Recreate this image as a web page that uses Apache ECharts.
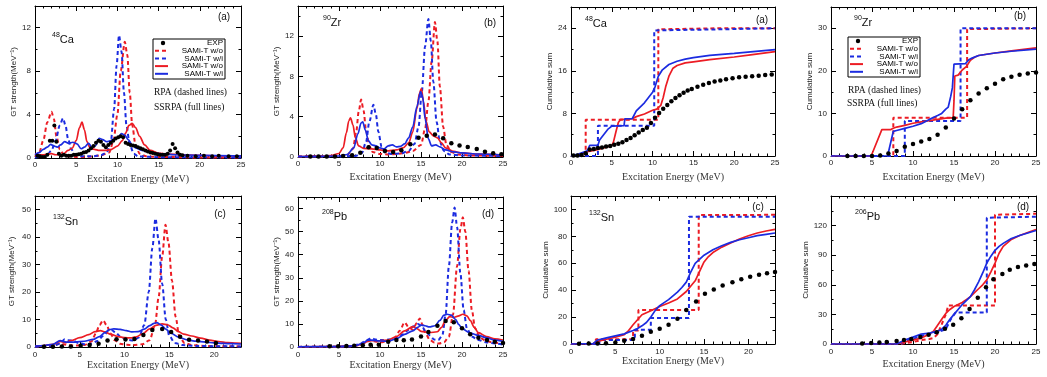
<!DOCTYPE html>
<html><head><meta charset="utf-8">
<script src="https://cdn.jsdelivr.net/npm/echarts/dist/echarts.min.js"></script>
<style>html,body{margin:0;padding:0;background:#fff}#c{width:1047px;height:377px}</style>
</head><body><div id="c"></div><script>
// ---------- DATA (energy MeV, value) ----------
// (a) 48Ca GT strength
const ca48_rpa_wo=[[0,0.1],[0.5,0.5],[1.0,1.6],[1.5,3.3],[2.0,4.25],[2.3,3.6],[2.6,2.0],[3.0,0.8],[3.5,0.3],[4,0.15],[5,0.1],[6,0.1],[7,0.15],[8,0.25],[9.0,0.5],[9.5,1.5],[10.0,4.0],[10.4,8.0],[10.9,10.7],[11.2,9.5],[11.5,6.0],[11.8,3.0],[12.2,1.2],[12.7,0.4],[13.5,0.15],[15,0.1],[20,0.05],[25,0.05]];
const ca48_rpa_wi=[[0,0.05],[1.0,0.1],[1.5,0.3],[2.0,0.7],[2.5,1.6],[3.0,3.0],[3.4,3.66],[3.7,3.0],[4.0,1.8],[4.4,0.8],[4.9,0.3],[5.5,0.15],[7,0.15],[8.0,0.25],[8.7,0.5],[9.2,1.5],[9.6,4.5],[9.9,8.5],[10.2,11.3],[10.5,9.8],[10.8,6.0],[11.1,3.0],[11.5,1.2],[12.0,0.4],[12.5,0.15],[15,0.08],[25,0.05]];
const ca48_ss_wo=[[0,0.4],[0.5,0.3],[1,0.3],[1.5,0.35],[2,0.4],[2.5,0.3],[3,0.3],[3.5,0.4],[4,0.7],[4.5,0.9],[5,1.6],[5.4,2.8],[5.7,3.3],[6.0,2.6],[6.3,1.5],[6.7,0.9],[7.2,0.8],[7.8,0.7],[8.5,0.7],[9.3,0.8],[10,1.1],[10.6,1.6],[11.0,2.3],[11.4,3.0],[11.8,3.2],[12.2,2.8],[12.7,2.0],[13.3,1.2],[14,0.7],[15,0.45],[16,0.35],[18,0.3],[20,0.25],[22,0.2],[25,0.2]];
const ca48_ss_wi=[[0,0.3],[0.5,0.5],[1,0.8],[1.5,1.0],[1.9,1.25],[2.3,1.1],[2.7,1.0],[3.1,1.2],[3.6,1.5],[4.1,1.35],[4.6,1.45],[5.1,1.3],[5.6,0.85],[6.0,1.0],[6.5,1.35],[6.9,1.0],[7.3,1.1],[7.8,1.8],[8.2,1.7],[8.7,1.5],[9.2,1.6],[9.7,1.8],[10.1,1.9],[10.5,2.25],[10.9,2.1],[11.3,1.7],[11.8,1.2],[12.3,0.9],[13,0.7],[14,0.5],[15,0.4],[17,0.3],[20,0.25],[25,0.2]];
const ca48_exp=[[0.3,0.2],[0.6,0.15],[0.9,0.1],[1.2,0.1],[1.5,0.3],[1.8,1.6],[2.1,1.6],[2.35,3.0],[2.6,1.5],[2.9,0.4],[3.2,0.2],[3.5,0.3],[3.8,0.2],[4.1,0.2],[4.4,0.2],[4.7,0.3],[5.0,0.3],[5.3,0.35],[5.6,0.4],[5.9,0.5],[6.2,0.55],[6.5,0.7],[6.8,0.9],[7.1,1.1],[7.4,1.4],[7.7,1.6],[8.0,1.5],[8.3,1.2],[8.6,1.0],[8.9,1.2],[9.2,1.4],[9.5,1.6],[9.8,1.8],[10.1,1.9],[10.4,2.0],[10.7,1.9],[11.0,1.4],[11.3,1.3],[11.6,1.2],[11.9,1.15],[12.2,1.1],[12.5,1.0],[12.8,0.9],[13.1,0.8],[13.4,0.7],[13.7,0.6],[14.0,0.5],[14.3,0.45],[14.6,0.4],[14.9,0.35],[15.2,0.3],[15.5,0.3],[15.8,0.3],[16.1,0.4],[16.4,0.7],[16.7,1.3],[17.0,0.9],[17.3,0.5],[17.6,0.3],[17.9,0.25],[18.5,0.2],[19.5,0.15],[20.5,0.2],[21.5,0.15],[22.3,0.2],[23.5,0.15],[24.5,0.15]];
// (b) 90Zr GT strength
const zr90_rpa_wo=[[0,0.05],[3,0.05],[5,0.1],[6,0.2],[6.7,0.8],[7.1,2.5],[7.4,4.5],[7.7,5.7],[8.0,4.6],[8.3,2.6],[8.7,1.1],[9.1,0.5],[10,0.3],[11,0.25],[12,0.3],[13,0.4],[14,0.6],[15,1.2],[15.5,2.8],[15.9,5.5],[16.3,9.5],[16.7,13.4],[17.0,11.5],[17.3,7],[17.7,3.0],[18.1,1.2],[18.7,0.5],[19.5,0.25],[21,0.15],[25,0.1]];
const zr90_rpa_wi=[[0,0.05],[5,0.05],[7,0.1],[7.8,0.4],[8.3,1.5],[8.7,3.5],[9.2,5.2],[9.5,4.2],[9.8,2.5],[10.2,1.0],[10.7,0.4],[11.5,0.3],[12.5,0.35],[13.5,0.6],[14.2,1.3],[14.7,3.0],[15.1,6.5],[15.5,11],[15.9,13.7],[16.2,11.5],[16.5,7.5],[16.9,3.5],[17.3,1.5],[17.8,0.6],[18.5,0.25],[20,0.15],[25,0.1]];
const zr90_ss_wo=[[0,0.05],[3,0.1],[4,0.15],[5,0.35],[5.5,0.9],[5.9,2.4],[6.2,3.6],[6.4,3.9],[6.7,3.2],[7.0,1.9],[7.4,1.1],[8,0.85],[9,0.8],[10,0.7],[11,0.6],[12,0.7],[12.8,0.9],[13.5,1.4],[14,2.5],[14.5,4.8],[14.8,6.3],[15.05,6.8],[15.3,5.5],[15.6,3.6],[16,2.5],[16.5,2.1],[17,1.9],[17.5,1.4],[18,0.9],[19,0.55],[20,0.4],[22,0.3],[25,0.2]];
const zr90_ss_wi=[[0,0.05],[5,0.1],[6,0.25],[6.8,0.9],[7.3,2.3],[7.7,3.4],[7.9,3.5],[8.2,2.7],[8.6,1.6],[9.0,1.2],[9.5,1.1],[10,0.9],[10.5,0.8],[11,1.1],[11.5,1.2],[12,1.0],[12.5,1.05],[13,1.3],[13.5,1.9],[14,3.0],[14.5,5.0],[14.95,6.5],[15.2,6.0],[15.5,3.8],[15.9,1.8],[16.3,1.1],[16.8,1.2],[17.3,1.0],[18,0.7],[19,0.5],[20,0.4],[22,0.3],[25,0.2]];
const zr90_exp=[[1.5,0.05],[2.5,0.05],[3.5,0.05],[4.5,0.05],[5.5,0.1],[6.6,0.17],[7.6,0.43],[8.6,0.97],[9.6,0.9],[10.6,0.6],[11.6,0.5],[12.6,0.67],[13.7,1.27],[14.7,1.9],[15.7,2.1],[16.7,2.23],[17.7,1.87],[18.7,1.37],[19.7,1.13],[20.7,1.0],[21.8,0.8],[22.8,0.53],[23.8,0.37],[24.8,0.27]];
// (a) 48Ca cumulative sum
const ca48c_rpa_wo=[[0,0],[1.8,0],[1.8,6.8],[10.7,6.8],[10.7,23.8],[18,24],[25,24]];
const ca48c_rpa_wi=[[0,0],[3.3,0],[3.3,5.7],[10.2,5.7],[10.2,23.6],[18,23.8],[25,24]];
const ca48c_ss_wo=[[0,0],[1,0.3],[2,0.8],[3,1.1],[4,1.5],[5,2.0],[5.2,2.6],[5.5,4.5],[5.8,6.3],[6.1,6.9],[7,6.9],[7.5,7.0],[8,7.4],[9,7.9],[10,8.6],[10.5,8.8],[11,9.5],[11.3,11],[11.6,13],[12,15],[12.5,16.5],[13,17.0],[14,17.5],[15,17.7],[17,18.1],[20,18.6],[22,19.0],[25,19.6]];
const ca48c_ss_wi=[[0,0],[1,0.4],[2,1.0],[2.3,2.0],[3.3,2.0],[3.5,3.0],[4,4.0],[4.5,5.0],[5,5.6],[6.5,5.7],[6.6,7.0],[7.5,7.0],[8,8.5],[9,10.0],[9.5,11],[10,12],[10.3,13],[10.7,15],[11.2,16.2],[12,17.2],[13,17.8],[14,18.2],[15,18.5],[17,18.9],[20,19.3],[25,20.0]];
const ca48c_exp=[[0.3,0.1],[0.8,0.1],[1.3,0.2],[1.8,0.5],[2.3,1.2],[2.8,1.3],[3.3,1.5],[3.8,1.6],[4.3,1.8],[4.8,1.9],[5.3,2.1],[5.8,2.3],[6.3,2.6],[6.8,3.0],[7.3,3.4],[7.8,3.9],[8.3,4.4],[8.8,4.9],[9.3,5.3],[9.8,6.2],[10.3,7.2],[10.8,8.1],[11.3,8.9],[11.8,9.6],[12.3,10.3],[12.8,10.9],[13.3,11.4],[13.8,11.9],[14.3,12.3],[14.8,12.6],[15.5,13.0],[16.2,13.4],[16.9,13.7],[17.6,14.0],[18.3,14.2],[19,14.4],[19.8,14.6],[20.6,14.8],[21.4,14.9],[22.2,15.0],[23,15.1],[23.8,15.2],[24.6,15.3]];
// (b) 90Zr cumulative sum
const zr90c_rpa_wo=[[0,0],[7.6,0],[7.6,9.0],[16.6,9.0],[16.6,29.8],[25,30]];
const zr90c_rpa_wi=[[0,0],[9.0,0],[9.0,8.2],[15.8,8.2],[15.8,30],[25,30]];
const zr90c_ss_wo=[[0,0],[4.9,0],[6.2,6.2],[7.3,6.2],[7.6,6.5],[8,6.8],[9,7.2],[10,7.7],[11,8.0],[12,8.3],[13,8.6],[14,8.9],[14.9,9.0],[15.0,13],[15.1,18.8],[15.5,19.0],[16,20.2],[16.5,21.0],[17,22.5],[17.5,23.2],[18,23.6],[20,24.2],[22,24.7],[25,25.4]];
const zr90c_ss_wi=[[0,0],[6.9,0],[7.6,5.8],[8,6.0],[9,6.5],[10,7.0],[11,7.6],[12,8.6],[13,9.5],[13.5,10.0],[14,11.0],[14.3,11.5],[14.6,14],[14.8,16],[15.0,21.6],[16.4,21.7],[16.8,22.6],[17.2,23.0],[18,23.6],[20,24.2],[22,24.6],[25,25.1]];
const zr90c_exp=[[2,0],[3,0],[4,0],[5,0],[6,0.1],[7,0.6],[8,1.2],[9,2.2],[10,2.8],[11,3.4],[12,4.0],[13,5.0],[14,6.7],[15,8.8],[16,11.0],[17,13.1],[18,14.7],[19,15.9],[20,17.0],[21,18.0],[22,18.6],[23,19.1],[24,19.4],[25,19.6]];
// (c) 132Sn GT strength
const sn132_rpa_wo=[[0,0.1],[1.5,0.3],[2.3,0.8],[2.8,1.5],[3.2,1.0],[3.8,0.6],[4.5,0.5],[5.5,0.7],[6.3,2],[6.8,5],[7.2,8],[7.6,9.7],[8.0,8],[8.4,5],[8.9,2.5],[9.5,1.2],[10.2,0.8],[11,0.7],[12,1.0],[12.8,2.5],[13.4,8],[13.8,18],[14.2,33],[14.57,44.5],[14.9,38],[15.3,24],[15.7,11],[16.1,4],[16.7,1.5],[17.5,0.7],[19,0.4],[21,0.3],[23,0.2]];
const sn132_rpa_wi=[[0,0.1],[2,0.4],[2.8,1.2],[3.3,2.8],[3.7,2.5],[4.3,2.2],[4.8,1.5],[5.5,1.0],[6.3,1.2],[7.0,2.2],[7.6,4],[8.2,5.8],[8.6,6.1],[9.0,5.2],[9.6,3.6],[10.3,2.6],[11,2.4],[11.6,3.5],[12.2,8],[12.7,20],[13.1,36],[13.45,46.8],[13.8,39],[14.2,23],[14.6,10],[15.0,4],[15.6,1.5],[16.5,0.7],[18,0.4],[20,0.3],[23,0.2]];
const sn132_ss_wo=[[0,0.3],[1,0.5],[2,1.0],[2.8,2.0],[3.4,1.6],[4,2.3],[5,3.4],[6,4.5],[6.7,5.6],[7.3,6.0],[7.8,5.5],[8.5,4.6],[9.3,3.8],[10,3.4],[10.7,3.3],[11.3,3.7],[12,4.8],[12.8,6.6],[13.5,7.9],[14.2,8.4],[14.8,8.1],[15.4,7.0],[16,5.6],[16.6,4.7],[17.5,4.0],[18.5,3.2],[19.5,2.5],[20.5,2.0],[21.5,1.6],[22.5,1.4],[23,1.3]];
const sn132_ss_wi=[[0,0.3],[1,0.5],[2,1.0],[2.8,2.3],[3.5,1.8],[4.5,1.8],[5.5,2.1],[6.5,2.8],[7.2,3.8],[7.8,5.2],[8.3,6.3],[8.8,6.6],[9.5,6.4],[10.2,6.0],[10.8,5.5],[11.5,5.6],[12.2,6.5],[12.8,7.8],[13.3,8.6],[13.6,8.9],[14.1,8.0],[14.6,6.5],[15.2,5.0],[16,3.6],[17,2.6],[18,2.1],[19,1.8],[20,1.5],[21,1.3],[22,1.2],[23,1.1]];
const sn132_exp=[[1,0.1],[2,0.1],[3,0.2],[4,0.2],[5.1,0.5],[6.1,0.7],[7.1,1.2],[8.1,2.4],[9.1,2.8],[10.1,2.7],[11.1,2.9],[12.1,4.4],[13.1,6.2],[14.2,6.6],[15.2,5.5],[16.2,3.7],[17.2,2.6],[18.2,2.4],[19.2,2.0],[20.2,1.5]];
// (d) 208Pb GT strength
const pb208_rpa_wo=[[0,0.05],[5,0.1],[6.5,0.3],[7.5,1],[8.3,2],[8.8,3],[9.3,2.5],[10,2],[11,2.5],[11.8,4],[12.4,7],[13,10.7],[13.5,8.5],[14,7.5],[14.5,10.5],[14.85,12.4],[15.2,9.5],[15.6,5.5],[16.1,3],[16.6,2],[17.2,1.5],[17.8,2],[18.4,4.5],[18.9,14],[19.4,35],[19.8,51],[20.1,56.2],[20.4,50],[20.8,33],[21.2,16],[21.6,8],[22.2,4],[23,2.5],[24,1.8],[25,1.5]];
const pb208_rpa_wi=[[0,0.05],[5,0.1],[6.5,0.3],[7.5,1.2],[8.3,2.8],[8.9,3.8],[9.5,3.2],[10.2,3],[11,3.2],[12,4],[12.8,5.5],[13.5,7.5],[14.1,9],[14.6,10],[15.1,9],[15.6,6.5],[16.1,5],[16.6,3.2],[17.1,3],[17.6,5],[18.0,14],[18.4,35],[18.8,54],[19.1,60.4],[19.4,52],[19.8,32],[20.2,16],[20.6,8],[21.2,4.5],[22,3],[23,2],[24,1.5],[25,1]];
const pb208_ss_wo=[[0,0.1],[5,0.2],[7,0.5],[8,1.5],[8.5,2.5],[9,2.7],[10,2.7],[11,3.0],[12,4.5],[13,7.0],[14,8.8],[14.5,8.0],[15,6.8],[16,6.2],[17,6.6],[17.5,8.5],[18,11.5],[18.5,13.2],[19,12.8],[19.5,13.4],[20.1,14.2],[20.6,13.5],[21,11.5],[21.5,8.5],[22,6.2],[23,4.5],[24,3.5],[25,3.0]];
const pb208_ss_wi=[[0,0.1],[5,0.2],[7,0.5],[8,1.8],[8.5,3.0],[9,3.0],[10,2.6],[11,2.5],[12,3.5],[13,5.5],[14,7.0],[14.6,8.5],[15,9.5],[15.5,9.2],[16,8.7],[16.7,9.2],[17.3,11.5],[17.8,13.8],[18.2,14.2],[18.7,13.8],[19.2,12],[19.6,9.8],[20,8],[21,6],[22,5],[23,4],[24,3],[25,2.5]];
const pb208_exp=[[3.85,0.3],[4.9,0.3],[5.9,0.4],[6.85,0.5],[7.9,0.8],[8.85,1.0],[9.85,1.0],[11,2.3],[12,3.0],[12.9,2.9],[13.9,3.3],[15,4.5],[15.9,6.5],[17,9.2],[18,11.3],[19,10.7],[20,8.1],[21,5.5],[22,4.0],[23.05,3.0],[24,2.3],[25,1.7]];
// (c) 132Sn cumulative sum
const sn132c_rpa_wo=[[0,0],[2.8,0],[2.8,3.5],[7.0,3.5],[7.0,10],[7.6,10],[7.6,25.2],[14.4,25.2],[14.4,95.8],[23,96]];
const sn132c_rpa_wi=[[0,0],[3.2,0],[3.2,3],[7.2,3],[7.2,10.5],[9.0,10.5],[9.0,19.3],[13.3,19.3],[13.3,94.6],[23,94.6]];
const sn132c_ss_wo=[[0,0],[2.5,0.3],[3,2],[4,3.5],[5,5],[6,7],[6.5,10],[7,14.3],[7.5,18],[8,21.7],[9,24.7],[10,27.9],[11,30.5],[12,33.5],[13,39],[14,47],[14.5,54],[15,61],[15.5,65],[16,68],[17,72],[18,75],[19,78],[20,80.5],[21,82.5],[22,84],[23,85.2]];
const sn132c_ss_wi=[[0,0],[2.5,0.3],[3,3],[4,4.5],[5,6],[6,7.5],[7,10],[7.5,11.5],[8,13.5],[8.5,16],[9,20],[9.5,25],[10,28.5],[11,33],[12,38.5],[12.5,42],[13,46],[13.5,53.5],[14,60],[15,66],[16,70],[17,73],[18,75.5],[19,77.5],[20,79],[21,80.5],[22,81.5],[23,82.5]];
const sn132c_exp=[[0.9,0.2],[2,0.3],[3,0.4],[3.94,0.5],[5,1.2],[6,2.5],[7,3.7],[8,6.2],[9,9.1],[10,11.4],[11,14.3],[12,18.8],[13,25.2],[14.1,31.6],[15.1,37.3],[16.1,40.5],[17.1,43.5],[18.2,45.9],[19.2,48.1],[20.2,49.9],[21.2,51.4],[22.1,52.6],[23,53.6]];
// (d) 206Pb cumulative sum
const pb206c_rpa_wo=[[0,0],[8.5,0],[9,1],[10,2],[11,4],[12,5],[12.5,6],[13,10],[13.5,20],[14,30],[14.3,39],[20,39],[20,131],[25,132]];
const pb206c_rpa_wi=[[0,0],[8.5,0],[9,3],[10,5],[11,8],[12,10],[13,12],[14,15],[14.6,25],[15.2,32],[19,32],[19,128],[25,129]];
const pb206c_ss_wo=[[0,0],[8,0],[8.5,1],[9,2],[10,4],[11,6],[12,10],[12.5,13],[13,19],[13.5,25],[14,31],[14.5,35],[15,38],[16,42],[16.5,45],[17,48],[17.5,52],[18,56],[18.5,60],[19,65],[19.5,73],[20,82],[20.5,92],[21,99],[22,106],[23,110],[24,113],[25,116]];
const pb206c_ss_wi=[[0,0],[8,0],[8.5,2],[9,4],[10,7],[11,10],[12,11],[13,13],[13.5,15],[14,19],[14.5,25],[15,30],[15.5,35],[16,40],[16.5,44],[17,48],[17.5,55],[18,63],[18.5,72],[19,82],[19.5,89],[20,95],[20.5,99],[21,102],[22,107],[23,110],[24,112.5],[25,115]];
const pb206c_exp=[[3.8,0.5],[4.9,1],[5.9,1.5],[6.8,2],[8.0,3],[8.9,4],[9.8,5],[10.9,7],[11.9,9.5],[12.9,12],[13.9,15.4],[14.9,19.4],[15.9,26],[16.9,35.5],[17.9,46.8],[18.9,57.5],[19.8,65.5],[20.9,70.9],[21.8,75.3],[22.8,78],[23.8,79.6],[24.8,81]];

const legendLabels=['EXP','SAMi-T w/o','SAMi-T w/i','SAMi-T w/o','SAMi-T w/i'];
const xName='Excitation Energy (MeV)';
const yNameGT='GT strength(MeV⁻¹)';
const yNameCum='Cumulative sum';

// ---------- LAYOUT ----------
const RED='#ec1c24', BLUE='#1b2be0';
const P=[
 {L:35,T:6,W:206,H:152,xmax:25,ymax:14,yint:4,yn:yNameGT,yg:16.5,xg:16.5,lm:3,sm:true,es:4,d:[ca48_rpa_wo,ca48_rpa_wi,ca48_ss_wo,ca48_ss_wi,ca48_exp]},
 {L:298,T:6,W:205,H:151,xmax:25,ymax:15,yint:4,yn:yNameGT,yg:13.5,xg:15,lm:3,sm:true,es:4.5,d:[zr90_rpa_wo,zr90_rpa_wi,zr90_ss_wo,zr90_ss_wi,zr90_exp]},
 {L:571,T:7,W:204,H:149,xmax:25,ymax:28,yint:8,yn:yNameCum,yg:14.5,xg:16.5,lm:3,sm:false,es:4.5,d:[ca48c_rpa_wo,ca48c_rpa_wi,ca48c_ss_wo,ca48c_ss_wi,ca48c_exp]},
 {L:831,T:7,W:205,H:149,xmax:25,ymax:35,yint:10,yn:yNameCum,yg:14.5,xg:16.5,lm:3,sm:false,es:4.5,d:[zr90c_rpa_wo,zr90c_rpa_wi,zr90c_ss_wo,zr90c_ss_wi,zr90c_exp]},
 {L:35,T:196,W:206,H:151,xmax:23,ymax:55,yint:10,yn:yNameGT,yg:19.5,xg:11.5,lm:4,sm:true,es:4.5,d:[sn132_rpa_wo,sn132_rpa_wi,sn132_ss_wo,sn132_ss_wi,sn132_exp]},
 {L:298,T:197,W:205,H:150,xmax:25,ymax:65,yint:10,yn:yNameGT,yg:15.5,xg:12.5,lm:4,sm:true,es:4.5,d:[pb208_rpa_wo,pb208_rpa_wi,pb208_ss_wo,pb208_ss_wi,pb208_exp]},
 {L:571,T:196,W:204,H:148,xmax:23,ymax:110,yint:20,yn:yNameCum,yg:19.5,xg:10.5,lm:3.5,sm:false,es:4.5,d:[sn132c_rpa_wo,sn132c_rpa_wi,sn132c_ss_wo,sn132c_ss_wi,sn132c_exp]},
 {L:831,T:196,W:205,H:148,xmax:25,ymax:150,yint:30,yn:yNameCum,yg:20.5,xg:15,lm:3.5,sm:false,es:4.5,d:[pb206c_rpa_wo,pb206c_rpa_wi,pb206c_ss_wo,pb206c_ss_wi,pb206c_exp]}
];

function axisBase(extra){
  return Object.assign({
    type:'value', min:0,
    axisLine:{show:true,onZero:false,lineStyle:{color:'#000',width:1}},
    axisTick:{show:true,inside:true,length:5,lineStyle:{color:'#000',width:1}},
    minorTick:{show:true,splitNumber:5,length:2.5,lineStyle:{color:'#000',width:1}},
    splitLine:{show:false}, minorSplitLine:{show:false}
  },extra);
}
const lblStyle={fontSize:8,color:'#222',fontFamily:'Liberation Sans, Arial, sans-serif'};
const grids=[],xAxes=[],yAxes=[],series=[];
P.forEach((p,i)=>{
  grids.push({left:p.L,top:p.T,width:p.W,height:p.H,containLabel:false,outerBoundsMode:'none'});
  xAxes.push(axisBase({gridIndex:i,position:'bottom',max:p.xmax,interval:5,
    axisLabel:Object.assign({show:true,margin:p.lm,showMaxLabel:p.xmax%5===0},lblStyle),
    name:xName,nameLocation:'middle',nameGap:p.xg,
    nameTextStyle:{fontFamily:'Liberation Serif, Times New Roman, serif',fontSize:10,color:'#333'}}));
  xAxes.push(axisBase({gridIndex:i,position:'top',max:p.xmax,interval:5,axisLabel:{show:false}}));
  yAxes.push(axisBase({gridIndex:i,position:'left',max:p.ymax,interval:p.yint,
    minorTick:{show:true,splitNumber:2,length:2.5,lineStyle:{color:'#000',width:1}},
    axisLabel:Object.assign({show:true,margin:4,showMaxLabel:false},lblStyle),
    name:p.yn,nameLocation:'middle',nameRotate:90,nameGap:p.yg,
    nameTextStyle:{fontFamily:'Liberation Sans, Arial, sans-serif',fontSize:8,color:'#222'}}));
  yAxes.push(axisBase({gridIndex:i,position:'right',max:p.ymax,interval:p.yint,
    minorTick:{show:true,splitNumber:2,length:2.5,lineStyle:{color:'#000',width:1}},
    axisLabel:{show:false}}));
  const st=[{c:RED,dash:true},{c:BLUE,dash:true},{c:RED,dash:false},{c:BLUE,dash:false}];
  st.forEach((s,k)=>{
    series.push({type:'line',xAxisIndex:2*i,yAxisIndex:2*i,data:p.d[k],symbol:'none',showSymbol:false,
      smooth:p.sm?0.3:false,smoothMonotone:'x',clip:true,z:2+k,
      lineStyle:{color:s.c,width:s.dash?2:1.7,type:s.dash?[4,3]:'solid'}});
  });
  series.push({type:'scatter',xAxisIndex:2*i,yAxisIndex:2*i,data:p.d[4],symbolSize:p.es,
    itemStyle:{color:'#000',opacity:1},z:10,clip:true});
});

// ---------- GRAPHIC (labels, legends) ----------
const g=[];
function txt(x,y,t,size,fam,align){
  g.push({type:'text',x:x,y:y,z:100,style:{text:t,fontSize:size,fontFamily:fam,fill:'#111',align:align||'left',verticalAlign:'middle'}});
}
function nuc(x,y,mass,el){
  g.push({type:'text',x:x,y:y,z:100,style:{text:'{s|'+mass+'}{e|'+el+'}',fill:'#111',verticalAlign:'middle',
    rich:{s:{fontSize:7,fontFamily:'Liberation Sans, Arial',verticalAlign:'top',lineHeight:13,fill:'#111'},
          e:{fontSize:11,fontFamily:'Liberation Sans, Arial',lineHeight:13,fill:'#111',padding:[4,0,0,0]}}}});
}
function legend(x,y){
  g.push({type:'rect',z:90,shape:{x:x,y:y,width:72,height:40},style:{fill:'#fff',stroke:'#000',lineWidth:1}});
  legendLabels.forEach((t,k)=>{
    const yy=y+4+k*7.7;
    g.push({type:'text',z:100,x:x+70,y:yy,style:{text:t,fontSize:8,fontFamily:'Liberation Sans, Arial',fill:'#000',align:'right',verticalAlign:'middle'}});
    if(k===0){g.push({type:'circle',z:100,shape:{cx:x+10,cy:yy,r:2.2},style:{fill:'#000'}});}
    else{g.push({type:'line',z:100,shape:{x1:x+2,y1:yy,x2:x+15,y2:yy},
      style:{stroke:(k%2===1)?RED:BLUE,lineWidth:2,lineDash:k<3?[4,3]:null}});}
  });
}
const sans='Liberation Sans, Arial, sans-serif', serif='Liberation Serif, Times New Roman, serif';
nuc(52,38,'48','Ca'); nuc(323,21,'90','Zr'); nuc(585,22,'48','Ca'); nuc(854,21,'90','Zr');
nuc(53,220,'132','Sn'); nuc(322,215,'208','Pb'); nuc(589,216,'132','Sn'); nuc(855,215,'206','Pb');
txt(224,17,'(a)',10,sans,'center'); txt(490,23,'(b)',10,sans,'center');
txt(762,20,'(a)',10,sans,'center'); txt(1020,16,'(b)',10,sans,'center');
txt(220,214,'(c)',10,sans,'center'); txt(488,214,'(d)',10,sans,'center');
txt(758,207,'(c)',10,sans,'center'); txt(1023,207,'(d)',10,sans,'center');
legend(153,39); legend(848,37);
txt(154,92,'RPA (dashed lines)',9.5,serif); txt(154,107,'SSRPA (full lines)',9.5,serif);
txt(848,90,'RPA (dashed lines)',9.5,serif); txt(847,103,'SSRPA (full lines)',9.5,serif);

const chart=echarts.init(document.getElementById('c'),null,{renderer:'canvas'});
chart.setOption({animation:false,backgroundColor:'#fff',grid:grids,xAxis:xAxes,yAxis:yAxes,series:series,graphic:g});
</script></body></html>
